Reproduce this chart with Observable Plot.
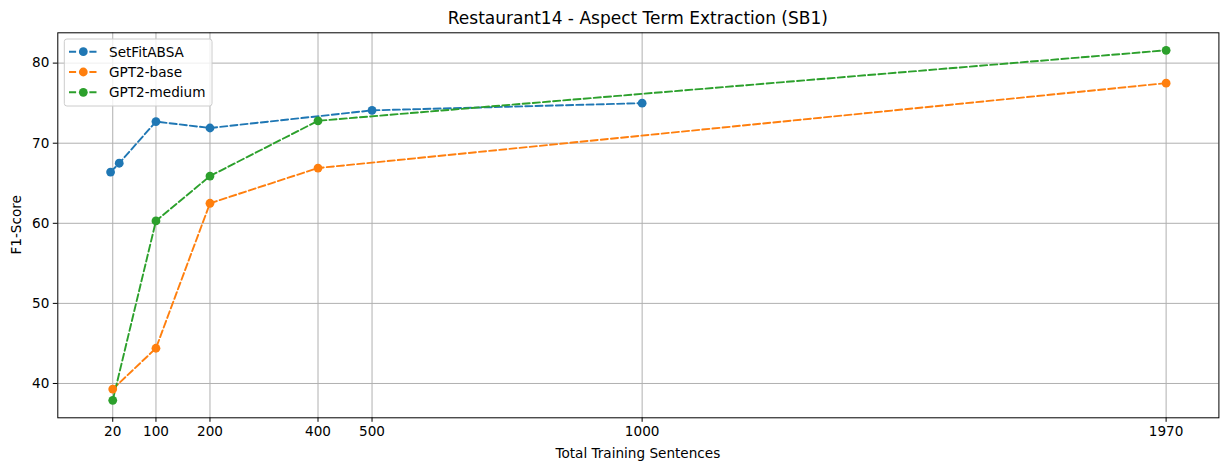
<!DOCTYPE html>
<html>
<head>
<meta charset="utf-8">
<script src="https://cdn.jsdelivr.net/npm/d3@7"></script>
<script src="https://cdn.jsdelivr.net/npm/@observablehq/plot@0.6"></script>
<style>
  html, body { margin: 0; padding: 0; background: white; }
  #chart svg { display: block; }
</style>
</head>
<body>
<div id="chart"></div>
<script>
// ---- Data ----
const seriesNames = ["SetFitABSA", "GPT2-base", "GPT2-medium"];
const seriesColors = ["#1f77b4", "#ff7f0e", "#2ca02c"];

const setfitX = [16, 32, 100, 200, 500, 1000];
const setfitY = [66.4, 67.5, 72.7, 71.9, 74.1, 75.0];

const gpt2BaseX = [20, 100, 200, 400, 1970];
const gpt2BaseY = [39.3, 44.4, 62.5, 66.9, 77.5];

const gpt2MediumX = [20, 100, 200, 400, 1970];
const gpt2MediumY = [37.9, 60.3, 65.9, 72.8, 81.6];

const xTicks = [20, 100, 200, 400, 500, 1000, 1970];
const yTicks = [40, 50, 60, 70, 80];

const titleText = "Restaurant14 - Aspect Term Extraction (SB1)";
const xLabelText = "Total Training Sentences";
const yLabelText = "F1-Score";

// ---- Build table ----
const rows = [];
[[setfitX, setfitY], [gpt2BaseX, gpt2BaseY], [gpt2MediumX, gpt2MediumY]].forEach(([xs, ys], i) => {
  xs.forEach((x, j) => rows.push({series: seriesNames[i], x, y: ys[j]}));
});

// matplotlib-like 5% margins
function padDomain(vals) {
  const lo = d3.min(vals), hi = d3.max(vals), m = (hi - lo) * 0.05;
  return [lo - m, hi + m];
}
const xDomain = padDomain(rows.map(d => d.x));
const yDomain = padDomain(rows.map(d => d.y));

const font = "DejaVu Sans, sans-serif";
const fs = 13.6;
const titleFs = 17;

const W = 1229, H = 470;
const mL = 57.3, mR = 10.6, mT = 32.3, mB = 52.7;

const chart = Plot.plot({
  width: W,
  height: H,
  marginLeft: mL,
  marginRight: mR,
  marginTop: mT,
  marginBottom: mB,
  style: {fontFamily: font, fontSize: fs + "px", color: "black", background: "white", overflow: "visible"},
  x: {type: "linear", domain: xDomain, label: null},
  y: {type: "linear", domain: yDomain, label: null},
  color: {domain: seriesNames, range: seriesColors},
  marks: [
    Plot.gridX(xTicks, {stroke: "#b0b0b0", strokeOpacity: 1, strokeWidth: 1}),
    Plot.gridY(yTicks, {stroke: "#b0b0b0", strokeOpacity: 1, strokeWidth: 1}),
    Plot.line(rows, {x: "x", y: "y", z: "series", stroke: "series", strokeWidth: 1.9, strokeDasharray: "7.1,3.1", curve: "linear"}),
    Plot.dot(rows, {x: "x", y: "y", fill: "series", r: 4.4, stroke: null}),
    Plot.frame({stroke: "black", strokeWidth: 1}),
    Plot.axisX(xTicks, {tickSize: 4.5, tickPadding: 4.5, label: null, fontSize: fs, tickFormat: d => String(d)}),
    Plot.axisY(yTicks, {tickSize: 4.5, tickPadding: 4, label: null, fontSize: fs, tickFormat: d => String(d)})
  ]
});

document.getElementById("chart").appendChild(chart);

// ---- Title, axis labels, legend ----
const svg = d3.select(chart);
const frameCx = mL + (W - mL - mR) / 2;
const frameCy = mT + (H - mT - mB) / 2;

svg.append("text")
  .attr("x", frameCx).attr("y", 23.5)
  .attr("text-anchor", "middle")
  .attr("font-family", font).attr("font-size", titleFs)
  .attr("fill", "black")
  .text(titleText);

svg.append("text")
  .attr("x", frameCx).attr("y", 458)
  .attr("text-anchor", "middle")
  .attr("font-family", font).attr("font-size", fs)
  .attr("fill", "black")
  .text(xLabelText);

svg.append("text")
  .attr("transform", `translate(21,${frameCy}) rotate(-90)`)
  .attr("text-anchor", "middle")
  .attr("font-family", font).attr("font-size", fs)
  .attr("fill", "black")
  .text(yLabelText);

// Legend (upper left, matplotlib style)
const lg = svg.append("g");
lg.append("rect")
  .attr("x", 64.3).attr("y", 39).attr("width", 147.7).attr("height", 67)
  .attr("rx", 2.6).attr("ry", 2.6)
  .attr("fill", "white").attr("fill-opacity", 0.8)
  .attr("stroke", "#cccccc").attr("stroke-width", 1);

const rowY = [51.7, 72, 92.3];
seriesNames.forEach((name, i) => {
  const y = rowY[i];
  lg.append("line")
    .attr("x1", 69).attr("x2", 96.7).attr("y1", y).attr("y2", y)
    .attr("stroke", seriesColors[i]).attr("stroke-width", 1.9)
    .attr("stroke-dasharray", "7.1,3.1");
  lg.append("circle")
    .attr("cx", 83.3).attr("cy", y).attr("r", 4.4)
    .attr("fill", seriesColors[i]);
  lg.append("text")
    .attr("x", 109).attr("y", y).attr("dy", "0.36em")
    .attr("text-anchor", "start")
    .attr("font-family", font).attr("font-size", fs)
    .attr("fill", "black")
    .text(name);
});
</script>
</body>
</html>
